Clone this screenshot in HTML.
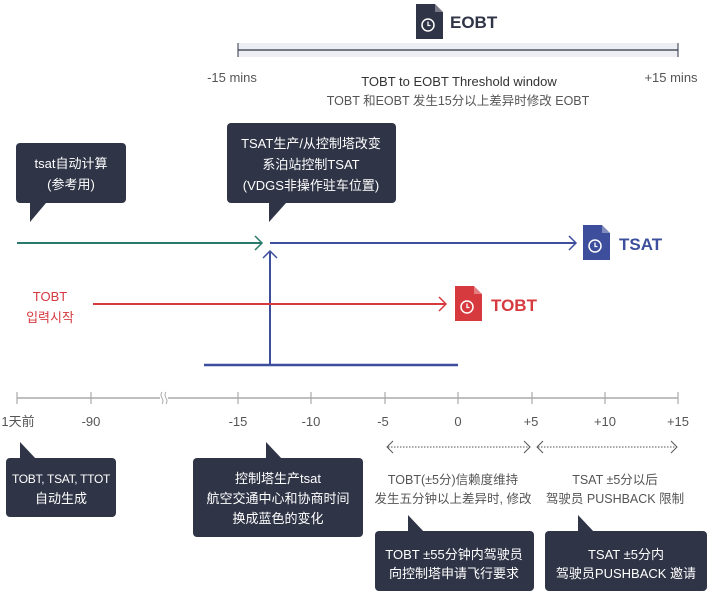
<!DOCTYPE html>
<html><head><meta charset="utf-8"><style>
body{margin:0;background:#fff}
svg{display:block;font-family:"Liberation Sans","Noto Sans CJK SC",sans-serif}
</style></head><body>
<svg width="708" height="591" viewBox="0 0 708 591" xmlns="http://www.w3.org/2000/svg">
<defs>
<g id="doc"><path d="M0 0H19L27 8V35H0Z"/><path d="M19 0V8H27Z" fill="#fff" opacity="0.35"/><circle cx="12" cy="21" r="6" fill="none" stroke="#fff" stroke-width="1.5"/><path d="M12 17.5V21.5H14.5" fill="none" stroke="#fff" stroke-width="1.3"/></g>
</defs>
<g fill="#2f3446" transform="translate(416,4)"><use href="#doc"/></g>
<text x="450" y="28" font-size="17" font-weight="bold" fill="#2f3446">EOBT</text>
<rect x="238" y="43" width="440" height="14" fill="#eceef3"/>
<line x1="238" y1="50" x2="678" y2="50" stroke="#2f3446" stroke-width="1.2"/>
<line x1="238" y1="43" x2="238" y2="57" stroke="#2f3446"/><line x1="678" y1="43" x2="678" y2="57" stroke="#2f3446"/>
<g font-size="13" fill="#555" text-anchor="middle">
<text x="232" y="82">-15 mins</text><text x="671" y="82">+15 mins</text>
<text x="459" y="86" fill="#333">TOBT to EOBT Threshold window</text>
<text x="458" y="105" font-size="12.5">TOBT 和EOBT 发生15分以上差异时修改 EOBT</text>
</g>
<g fill="#2f3446">
<rect x="16" y="143" width="110" height="60" rx="4"/><path d="M30 201V222L46 203Z"/>
<rect x="227" y="123" width="169" height="80" rx="4"/><path d="M269 201V222L286 203Z"/>
<rect x="6" y="458" width="110" height="59" rx="4"/><path d="M20 460V442L37 460Z"/>
<rect x="193" y="458" width="170" height="79" rx="4"/><path d="M266 460V442L283 460Z"/>
<rect x="375" y="531" width="159" height="60" rx="4"/><path d="M408 533V515L425 533Z"/>
<rect x="545" y="531" width="162" height="60" rx="4"/><path d="M578 533V515L595 533Z"/>
</g>
<g fill="#fff" font-size="13" text-anchor="middle">
<text x="71" y="168">tsat自动计算</text><text x="71" y="189">(参考用)</text>
<text x="311" y="148">TSAT生产/从控制塔改变</text><text x="311" y="169">系泊站控制TSAT</text><text x="311" y="190">(VDGS非操作驻车位置)</text>
<text x="61" y="483" font-size="12" letter-spacing="-0.3">TOBT, TSAT, TTOT</text><text x="61" y="503">自动生成</text>
<text x="278" y="483">控制塔生产tsat</text><text x="278" y="503">航空交通中心和协商时间</text><text x="278" y="523">换成蓝色的变化</text>
<text x="454" y="559">TOBT ±55分钟内驾驶员</text><text x="454" y="578">向控制塔申请飞行要求</text>
<text x="626" y="559">TSAT ±5分内</text><text x="626" y="578">驾驶员PUSHBACK 邀请</text>
</g>
<line x1="17" y1="243" x2="261" y2="243" stroke="#2a7a6c" stroke-width="2"/>
<path d="M255 236L262 243L255 250" fill="none" stroke="#2a7a6c" stroke-width="1.5"/>
<line x1="270" y1="243" x2="576" y2="243" stroke="#3d4f9c" stroke-width="2"/>
<path d="M569 236L576 243L569 250" fill="none" stroke="#3d4f9c" stroke-width="1.5"/>
<g fill="#3d4f9c" transform="translate(583,225)"><use href="#doc"/></g>
<text x="619" y="250" font-size="17" font-weight="bold" fill="#3d4f9c">TSAT</text>
<line x1="270" y1="251" x2="270" y2="365" stroke="#3d4f9c" stroke-width="2"/>
<path d="M263 258L270 251L277 258" fill="none" stroke="#3d4f9c" stroke-width="1.5"/>
<line x1="204" y1="365" x2="458" y2="365" stroke="#3d4f9c" stroke-width="2.5"/>
<line x1="93" y1="304" x2="446" y2="304" stroke="#d63a3f" stroke-width="2"/>
<path d="M439 297L446 304L439 311" fill="none" stroke="#d63a3f" stroke-width="1.5"/>
<g fill="#d63a3f" transform="translate(455,286)"><use href="#doc"/></g>
<text x="491" y="311" font-size="17" font-weight="bold" fill="#d63a3f">TOBT</text>
<g fill="#d63a3f" font-size="13" text-anchor="middle"><text x="50" y="301">TOBT</text><text x="50" y="322">입력시작</text></g>
<line x1="17" y1="398" x2="678" y2="398" stroke="#aaa" stroke-width="1.5"/>
<g stroke="#aaa" stroke-width="1.2">
<line x1="17" y1="392" x2="17" y2="404"/><line x1="91" y1="392" x2="91" y2="404"/><line x1="238" y1="392" x2="238" y2="404"/><line x1="311" y1="392" x2="311" y2="404"/><line x1="385" y1="392" x2="385" y2="404"/><line x1="458" y1="392" x2="458" y2="404"/><line x1="532" y1="392" x2="532" y2="404"/><line x1="605" y1="392" x2="605" y2="404"/><line x1="678" y1="392" x2="678" y2="404"/>
</g>
<rect x="160" y="392" width="8" height="12" fill="#fff"/>
<path d="M162 392q-2 3 0 6t0 6M166 392q-2 3 0 6t0 6" fill="none" stroke="#aaa"/>
<g font-size="13" fill="#555" text-anchor="middle">
<text x="18" y="426">1天前</text><text x="91" y="426">-90</text><text x="238" y="426">-15</text><text x="311" y="426">-10</text><text x="383" y="426">-5</text><text x="458" y="426">0</text><text x="531" y="426">+5</text><text x="605" y="426">+10</text><text x="678" y="426">+15</text>
</g>
<g stroke="#555" fill="none" stroke-width="1">
<line x1="388" y1="447" x2="529" y2="447" stroke-dasharray="1.5 1.5"/>
<path d="M393 441L387 447L393 453M524 441L530 447L524 453"/>
<line x1="538" y1="447" x2="676" y2="447" stroke-dasharray="1.5 1.5"/>
<path d="M543 441L537 447L543 453M671 441L677 447L671 453"/>
</g>
<g font-size="12.5" fill="#555" text-anchor="middle">
<text x="453" y="484">TOBT(±5分)信赖度维持</text><text x="453" y="503">发生五分钟以上差异时, 修改</text>
<text x="615" y="484">TSAT ±5分以后</text><text x="615" y="503">驾驶员 PUSHBACK 限制</text>
</g>
</svg>
</body></html>
